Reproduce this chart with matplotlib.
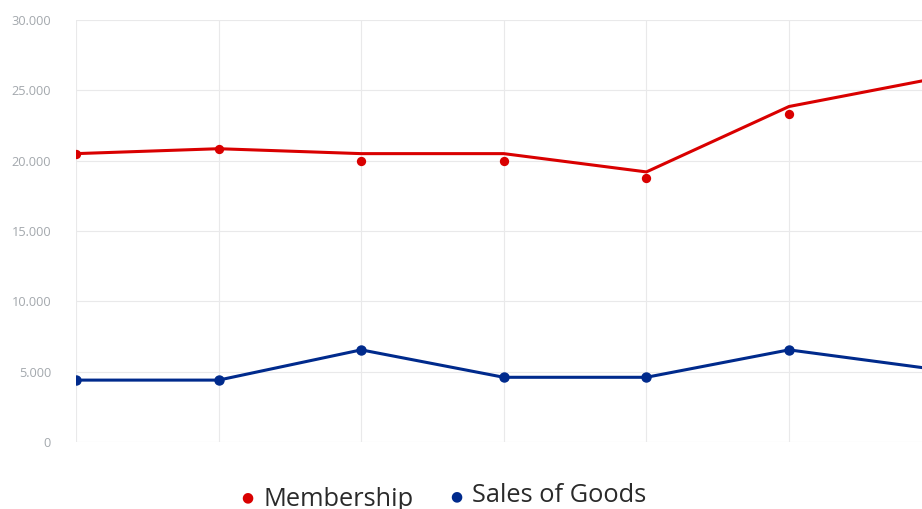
import matplotlib.pyplot as plt
import numpy as np

plt.rcParams.update({
    "font.family": ["Open Sans", "DejaVu Sans"],
})

# Data
periods = [0, 1, 2, 3, 4, 5, 6]
membership_line = [20500, 20850, 20500, 20500, 19200, 23850, 25800]
membership_pts = [20500, 20800, 20000, 20000, 18750, 23300]
sales_goods = [4400, 4400, 6550, 4600, 4600, 6550, 5200]
y_ticks = [0, 5000, 10000, 15000, 20000, 25000, 30000]
y_labels = ["0", "5.000", "10.000", "15.000", "20.000", "25.000", "30.000"]

RED = "#d90000"
BLUE = "#002a8c"
GRID = "#e9e9ea"

W, H = 922, 509
fig = plt.figure(figsize=(W / 100, H / 100), dpi=100)
ax = fig.add_axes([76 / W, (H - 442) / H, 1 - 76 / W, (442 - 20) / H])

ax.plot(periods, membership_line, color=RED, lw=2.2, solid_joinstyle="miter", zorder=3)
ax.scatter(periods[:len(membership_pts)], membership_pts, s=45, color=RED, zorder=4, lw=0)
ax.plot(periods, sales_goods, color=BLUE, lw=2.2, marker="o", ms=6.5, mec=BLUE, zorder=3)

ax.set_xlim(0, (W - 76) / 142.6)
ax.set_ylim(0, 30000)
ax.set_yticks(y_ticks)
ax.set_yticklabels(y_labels)
ax.set_xticks(periods[:6])
ax.set_xticklabels([])
ax.tick_params(axis="y", length=0, pad=18, labelsize=9.2, labelcolor="#a3a8ad")
ax.tick_params(axis="x", length=0)
ax.grid(True, color=GRID, lw=0.8)
ax.set_axisbelow(True)
for s in ax.spines.values():
    s.set_visible(False)

# legend drawn as loose text items
fig.text(247 / W, 1 - 497 / H, "\u25CF", color=RED, fontsize=10, ha="center", va="center",
         family="DejaVu Sans")
fig.text(263 / W, 1 - 499 / H, "Membership", color="#2a2a2a", fontsize=18.3, ha="left", va="center")
fig.text(456 / W, 1 - 496 / H, "\u25CF", color=BLUE, fontsize=10, ha="center", va="center",
         family="DejaVu Sans")
fig.text(472 / W, 1 - 495 / H, "Sales of Goods", color="#2a2a2a", fontsize=18.3, ha="left", va="center")

fig.savefig("out.png", dpi=100)
